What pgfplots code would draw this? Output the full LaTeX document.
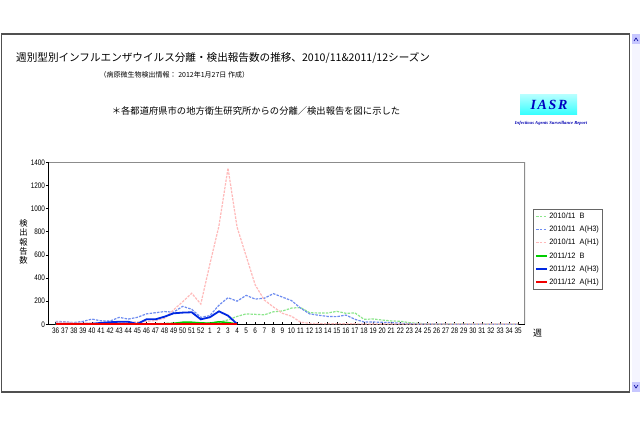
\documentclass[border=0pt]{standalone}
\usepackage{pgfplots}
\pgfplotsset{compat=1.18}
\usepackage{pgfplotstable}
\usepackage{fontspec}
\setmainfont{Liberation Sans}
\newfontfamily\cjk{Noto Sans CJK JP}
\newfontfamily\nar[FakeStretch=0.8]{Liberation Sans}
\newfontfamily\leg[FakeStretch=0.95]{Liberation Sans}
\newfontfamily\serifbi[LetterSpace=12]{Liberation Serif}
\newfontfamily\serifsm{Liberation Serif}

\definecolor{lgreen}{RGB}{140,230,140}
\definecolor{lblue}{RGB}{110,140,240}
\definecolor{lpink}{RGB}{255,185,185}
\definecolor{dgreen}{RGB}{0,205,0}
\definecolor{dblue}{RGB}{0,40,225}
\definecolor{dred}{RGB}{240,0,0}
\definecolor{frame}{RGB}{80,80,80}

\pgfplotstableread{
idx b h3 h1
0 2 25 20
1 2 22 18
2 2 15 12
3 2 25 10
4 3 45 10
5 3 30 10
6 3 28 12
7 4 60 15
8 4 45 18
9 5 60 20
10 5 90 25
11 6 100 32
12 8 110 52
13 10 105 125
14 12 155 195
15 15 130 268
16 12 60 175
17 12 75 520
18 18 165 850
19 38 230 1350
20 68 200 840
21 90 250 590
22 86 218 340
23 82 225 210
24 108 265 150
25 115 235 95
26 140 205 70
27 145 140 18
28 100 90 8
29 98 78 6
30 98 68 5
31 112 66 5
32 95 80 5
33 98 43 4
34 43 20 3
35 46 20 3
36 37 17 3
37 29 14 3
38 26 9 3
39 14 5 3
40 8 3 3
41 4 2 3
42 3 2 3
43 2 2 3
44 2 1 3
45 2 1 3
46 1 1 3
47 1 1 3
48 1 1 3
49 1 1 3
50 1 1 3
51 1 1 3
}\seasonA

\pgfplotstableread{
idx b h3 h1
0 2 5 2
1 2 5 2
2 2 5 2
3 2 5 2
4 2 5 2
5 2 12 2
6 2 18 2
7 2 22 2
8 2 22 2
9 2 3 2
10 3 43 2
11 3 43 2
12 4 66 2
13 8 95 2
14 18 101 2
15 18 104 2
16 12 43 2
17 10 61 2
18 22 112 2
19 15 75 2
20 3 3 2
}\seasonB

\begin{document}
\begin{tikzpicture}[x=1pt,y=1pt]
\path[use as bounding box, fill=white] (0,0) rectangle (640,426);
% page frame
\draw[frame, line width=1.3pt] (1.5,392) rectangle (629.5,34);
% scrollbar
\fill[blue!4] (631.5,392) rectangle (640,34);
\fill[blue!22] (632,392) rectangle (640,382);
\fill[blue!22] (632,44) rectangle (640,34);
\draw[blue!60!black, line width=0.6pt] (634,385) -- (636,388) -- (638,385);
\draw[blue!60!black, line width=0.6pt] (634,41) -- (636,38) -- (638,41);

% titles
\node[anchor=west, inner sep=0pt, font=\cjk\fontsize{10.6}{12}\selectfont] at (16,368.5)
  {週別型別インフルエンザウイルス分離・検出報告数の推移、2010/11\&2011/12シーズン};
\node[anchor=west, inner sep=0pt, font=\cjk\fontsize{7}{8}\selectfont] at (99.5,351)
  {（病原微生物検出情報： 2012年1月27日 作成）};
\node[anchor=center, inner sep=0pt, font=\cjk\fontsize{9.3}{11}\selectfont] at (256,315)
  {＊各都道府県市の地方衛生研究所からの分離／検出報告を図に示した};

% IASR logo
\shade[top color=cyan!30, bottom color=cyan!80] (520,331) rectangle (577,311);
\node[inner sep=0pt, text=blue!75!black, font=\serifbi\bfseries\itshape\fontsize{14}{14}\selectfont] at (549,321) {IASR};
\node[inner sep=0pt, text=blue!70!black, font=\serifsm\bfseries\itshape\fontsize{4.6}{5}\selectfont] at (551,302.5) {Infectious Agents Surveillance Report};

% y label
\node[align=center, inner sep=0pt, font=\cjk\fontsize{8.3}{9.2}\selectfont] at (23.5,184) {検\\出\\報\\告\\数};
% x unit
\node[inner sep=0pt, font=\cjk\fontsize{9}{10}\selectfont] at (537.5,93) {週};

\begin{axis}[
  at={(48pt,101.7pt)}, anchor=south west,
  scale only axis, width=477pt, height=162pt,
  xmin=-0.85, xmax=51.75, ymin=0, ymax=1400,
  axis line style={draw=none},
  xtick={0,...,51},
  xticklabels={36,37,38,39,40,41,42,43,44,45,46,47,48,49,50,51,52,1,2,3,4,5,6,7,8,9,10,11,12,13,14,15,16,17,18,19,20,21,22,23,24,25,26,27,28,29,30,31,32,33,34,35},
  ytick={0,200,...,1400},
  xtick pos=bottom, ytick pos=left,
  major tick length=2.5pt,
  xtick style={black, line width=0.6pt},
  ytick style={black, line width=0.6pt, xshift=-2.5pt},
  /pgf/number format/assume math mode=true,
  /pgf/number format/1000 sep={},
  ticklabel style={font=\nar\fontsize{8}{9}\selectfont, text=black},
  xticklabel style={yshift=-2.3pt, inner sep=1pt},
  yticklabel style={xshift=-1.8pt, inner sep=1pt},
  legend cell align=left,
  legend style={at={(1.0168,0.7117)}, anchor=north west, draw=black!60, line width=0.5pt,
    font=\leg\fontsize{7.8}{9}\selectfont, inner xsep=2pt, inner ysep=2.5pt,
    row sep=3.6pt,
    nodes={inner sep=1.2pt, text height=5.8pt, text depth=1.3pt}},
  legend image code/.code={\draw[#1] (0pt,0pt) -- (11pt,0pt);},
]
\draw[black!45, line width=1.2pt] (rel axis cs:0,1) -- (rel axis cs:1,1) -- (rel axis cs:1,0);
\draw[black, line width=0.9pt] (rel axis cs:0,1) -- (rel axis cs:0,0) -- (rel axis cs:1,0);
\addplot[lgreen, line width=1.2pt, dash pattern=on 2.5pt off 1.2pt] table[x=idx, y=b] {\seasonA};
\addlegendentry{2010/11\ \ B}
\addplot[lblue, line width=1.2pt, dash pattern=on 2.5pt off 1.2pt] table[x=idx, y=h3] {\seasonA};
\addlegendentry{2010/11\ \ A(H3)}
\addplot[lpink, line width=1.2pt, dash pattern=on 2.5pt off 1.2pt] table[x=idx, y=h1] {\seasonA};
\addlegendentry{2010/11\ \ A(H1)}
\addplot[dgreen, line width=1.5pt] table[x=idx, y=b] {\seasonB};
\addlegendentry{2011/12\ \ B}
\addplot[dblue, line width=1.8pt] table[x=idx, y=h3] {\seasonB};
\addlegendentry{2011/12\ \ A(H3)}
\addplot[dred, line width=1.8pt] table[x=idx, y=h1] {\seasonB};
\addlegendentry{2011/12\ \ A(H1)}
\end{axis}
\end{tikzpicture}
\end{document}
